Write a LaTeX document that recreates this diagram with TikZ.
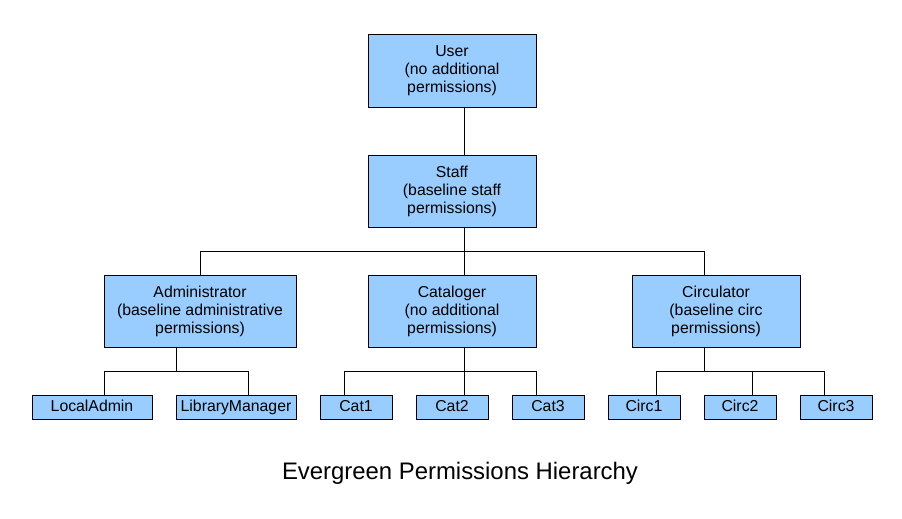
\documentclass[tikz,border=0pt]{standalone}
\usepackage{fontspec}
\setmainfont{Liberation Sans}
\definecolor{boxblue}{HTML}{99CCFF}
\begin{document}
\begin{tikzpicture}[x=1pt,y=-1pt,
  box/.style={draw=black,fill=boxblue,line width=1pt,inner sep=0pt,align=center,
    font=\fontsize{15.8}{18}\selectfont},
  bigbox/.style={box,minimum width=168pt,minimum height=72pt},
  leaf/.style={box,minimum width=72pt,minimum height=24pt,text height=11.5pt,text depth=3.5pt},
  wide/.style={leaf,minimum width=120pt},
  conn/.style={line width=1pt}]
\useasboundingbox (0,0) rectangle (902,519);
\node[bigbox] (user) at (452,71) {User\\(no additional\\permissions)};
\node[bigbox] (staff) at (452,191) {Staff\\(baseline staff\\permissions)};
\node[bigbox,minimum width=192pt] (admin) at (200,311) {Administrator\\(baseline administrative\\permissions)};
\node[bigbox] (cat) at (452,311) {Cataloger\\(no additional\\permissions)};
\node[bigbox] (circ) at (716,311) {Circulator\\(baseline circ\\permissions)};
\node[wide] (la) at (92,407) {LocalAdmin};
\node[wide] (lm) at (236,407) {LibraryManager};
\node[leaf] (c1) at (356,407) {Cat1};
\node[leaf] (c2) at (452,407) {Cat2};
\node[leaf] (c3) at (548,407) {Cat3};
\node[leaf] (r1) at (644,407) {Circ1};
\node[leaf] (r2) at (740,407) {Circ2};
\node[leaf] (r3) at (836,407) {Circ3};
\node[font=\fontsize{23.9}{28}\selectfont] (title) at (460,473) {Evergreen Permissions Hierarchy};
% connectors
\draw[conn] ([xshift=12pt]user.south) -- ([xshift=12pt]staff.north);
\draw[conn] ([xshift=12pt]staff.south) -- ++(0,24) coordinate (js);
\draw[conn] (admin.north) |- (js) -| ([xshift=-12pt]circ.north);
\draw[conn] (js) -- ([xshift=12pt]cat.north);
\draw[conn] ([xshift=-24pt]admin.south) -- ++(0,24) coordinate (ja);
\draw[conn] ([xshift=12pt]la.north) |- (ja) -| ([xshift=12pt]lm.north);
\draw[conn] ([xshift=12pt]cat.south) -- ++(0,24) coordinate (jc);
\draw[conn] ([xshift=-12pt]c1.north) |- (jc) -| ([xshift=-12pt]c3.north);
\draw[conn] (jc) -- ([xshift=12pt]c2.north);
\draw[conn] ([xshift=-12pt]circ.south) -- ++(0,24) coordinate (jr);
\draw[conn] ([xshift=12pt]r1.north) |- (jr) -| ([xshift=-12pt]r3.north);
\draw[conn] ([xshift=12pt]r2.north) -- ([xshift=12pt]r2.north |- jr);
\end{tikzpicture}
\end{document}
